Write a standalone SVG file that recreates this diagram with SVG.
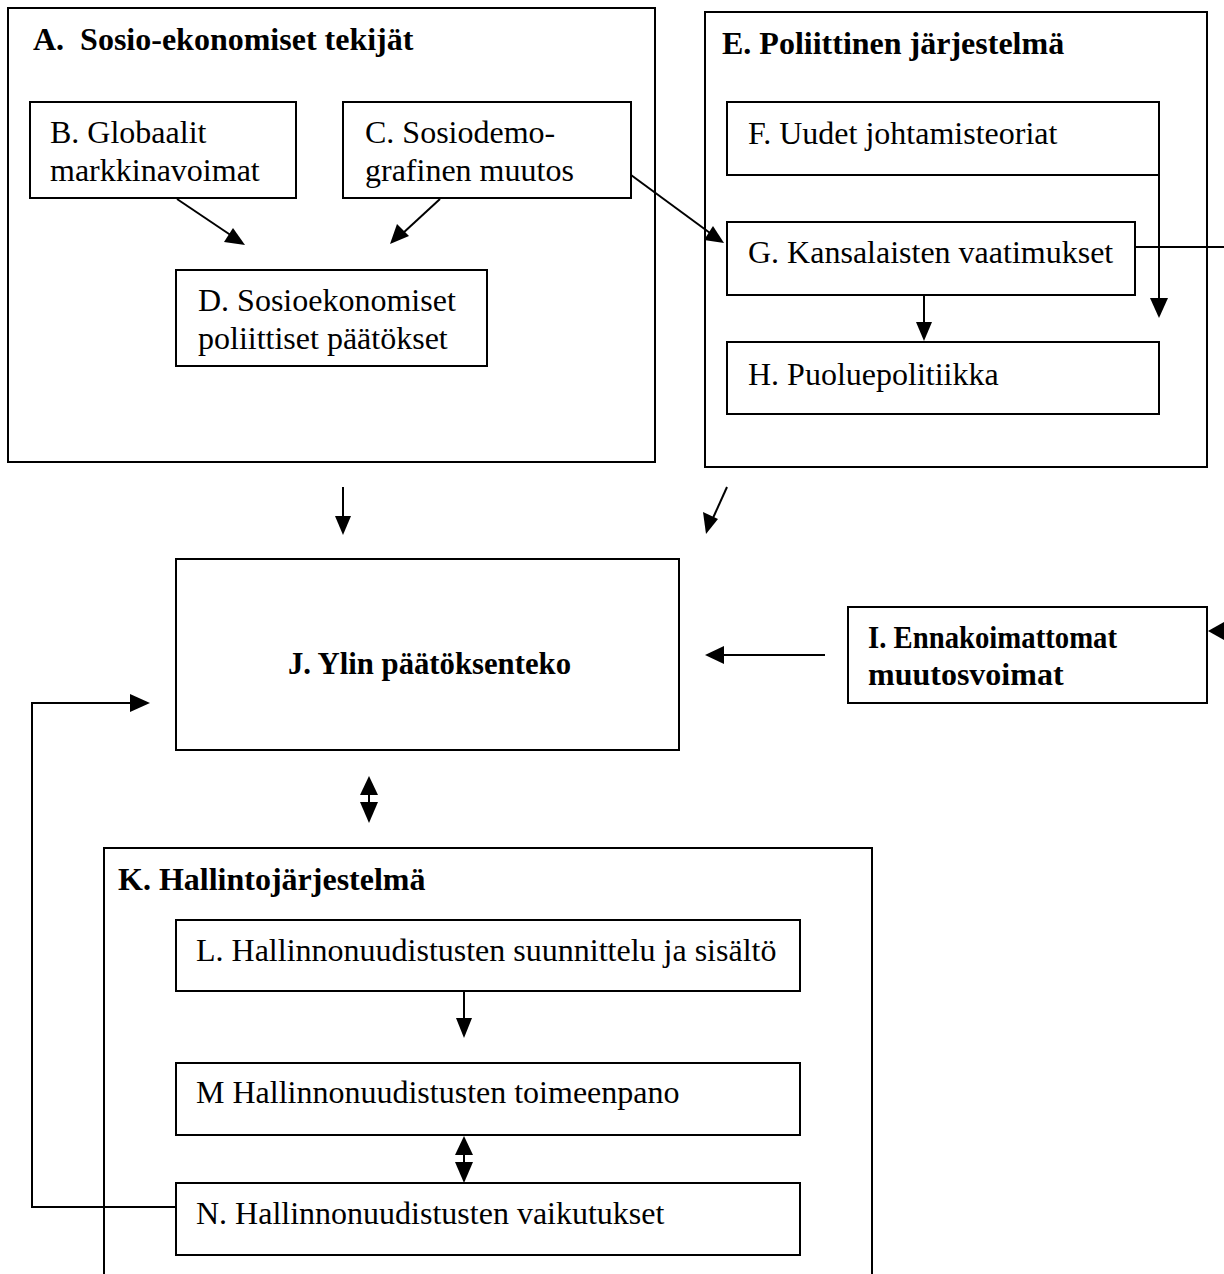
<svg xmlns="http://www.w3.org/2000/svg" width="1224" height="1274" viewBox="0 0 1224 1274">
<defs>
<style>
.box{fill:#fff;stroke:#000;stroke-width:2}
.frame{fill:none;stroke:#000;stroke-width:2}
.t{font-family:"Liberation Serif","Times New Roman",serif;font-size:32px;fill:#000}
.b{font-weight:bold}
.c{fill:none;stroke:#000;stroke-width:2}
</style>
</defs>
<rect width="1224" height="1274" fill="#fff"/>
<g id="A"><rect class="frame" x="8" y="8" width="647" height="454"/><text class="t b" x="33" y="50" xml:space="preserve">A.  Sosio-ekonomiset tekijät</text></g>
<g id="B"><rect class="box" x="30" y="102" width="266" height="96"/><text class="t" x="50" y="143">B. Globaalit</text><text class="t" x="50" y="181">markkinavoimat</text></g>
<g id="C"><rect class="box" x="343" y="102" width="288" height="96"/><text class="t" x="365" y="143">C. Sosiodemo-</text><text class="t" x="365" y="181">grafinen muutos</text></g>
<g id="D"><rect class="box" x="176" y="270" width="311" height="96"/><text class="t" x="198" y="311">D. Sosioekonomiset</text><text class="t" x="198" y="349">poliittiset päätökset</text></g>
<g id="E"><rect class="frame" x="705" y="12" width="502" height="455"/><text class="t b" x="722" y="54">E. Poliittinen järjestelmä</text></g>
<g id="F"><rect class="box" x="727" y="102" width="432" height="73"/><text class="t" x="748" y="144">F. Uudet johtamisteoriat</text></g>
<g id="G"><rect class="box" x="727" y="222" width="408" height="73"/><text class="t" x="748" y="263">G. Kansalaisten vaatimukset</text></g>
<g id="H"><rect class="box" x="727" y="342" width="432" height="72"/><text class="t" x="748" y="385">H. Puoluepolitiikka</text></g>
<g id="J"><rect class="box" x="176" y="559" width="503" height="191"/><text class="t b" x="288" y="674" textLength="283" lengthAdjust="spacingAndGlyphs">J. Ylin päätöksenteko</text></g>
<g id="I"><rect class="box" x="848" y="607" width="359" height="96"/><text class="t b" x="868" y="648" textLength="249" lengthAdjust="spacingAndGlyphs">I. Ennakoimattomat</text><text class="t b" x="868" y="685">muutosvoimat</text></g>
<g id="K"><rect class="frame" x="104" y="848" width="768" height="440"/><text class="t b" x="118" y="890">K. Hallintojärjestelmä</text></g>
<g id="L"><rect class="box" x="176" y="920" width="624" height="71"/><text class="t" x="196" y="961">L. Hallinnonuudistusten suunnittelu ja sisältö</text></g>
<g id="M"><rect class="box" x="176" y="1063" width="624" height="72"/><text class="t" x="196" y="1103">M Hallinnonuudistusten toimeenpano</text></g>
<g id="N"><rect class="box" x="176" y="1183" width="624" height="72"/><text class="t" x="196" y="1224">N. Hallinnonuudistusten vaikutukset</text></g>
<g id="connectors">
<path class="c" d="M177,199 L232,236"/><polygon points="245,245 224,242 233,228"/>
<path class="c" d="M440,199 L402,234"/><polygon points="390,244 397,224 409,236"/>
<path class="c" d="M631,175 L710,233"/><polygon points="724,243 704,240 713,226"/>
<path class="c" d="M924,295 L924,325"/><polygon points="924,341 916,322 932,322"/>
<path class="c" d="M1159,175 L1159,300"/><polygon points="1159,318 1150,298 1168,298"/>
<path class="c" d="M1135,247 L1224,247"/>
<polygon points="1208,631 1224,622 1224,640"/>
<path class="c" d="M343,487 L343,518"/><polygon points="343,535 335,516 351,516"/>
<path class="c" d="M727,487 L713,518"/><polygon points="706,534 703,512 718,519"/>
<path class="c" d="M825,655 L722,655"/><polygon points="705,655 724,646 724,664"/>
<path class="c" d="M369,795 L369,803"/><polygon points="369,776 360,795 378,795"/><polygon points="369,823 360,802 378,802"/>
<path class="c" d="M464,991 L464,1020"/><polygon points="464,1038 456,1018 472,1018"/>
<path class="c" d="M464,1155 L464,1163"/><polygon points="464,1136 455,1155 473,1155"/><polygon points="464,1183 455,1162 473,1162"/>
<path class="c" d="M176,1207 L32,1207 L32,703 L132,703"/><polygon points="150,703 130,694 130,712"/>
</g>
</svg>
